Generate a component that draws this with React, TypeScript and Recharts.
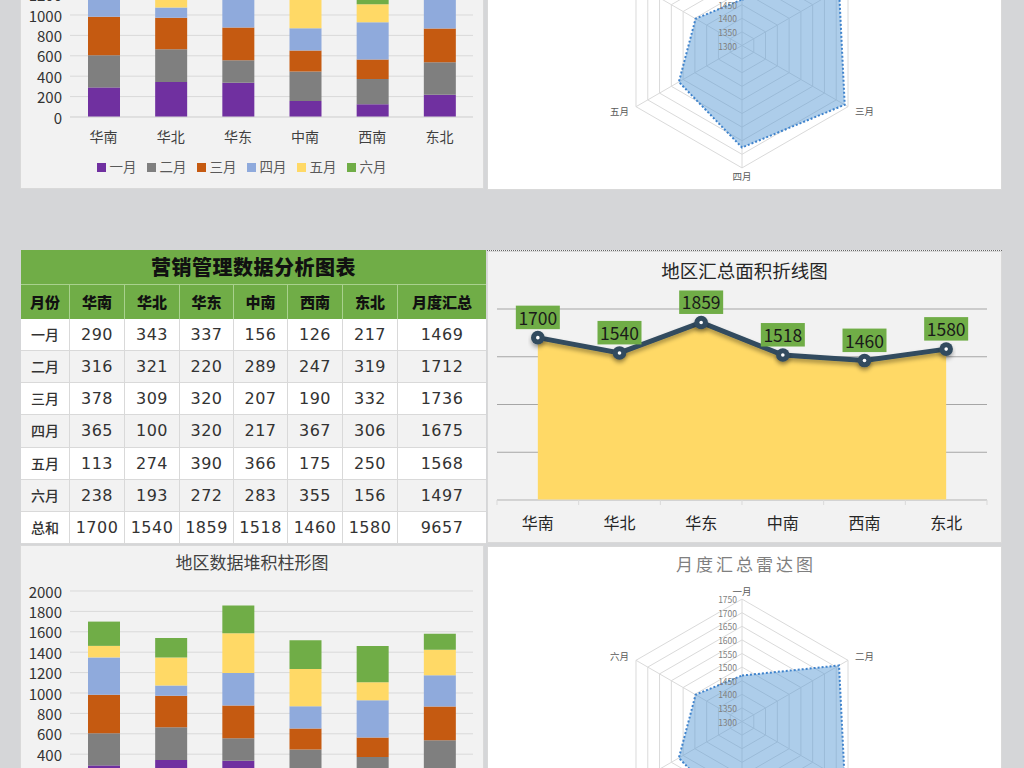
import React from 'react';
import {
  BarChart, Bar, XAxis, YAxis, CartesianGrid, Legend,
  ComposedChart, Area, Line, LabelList,
  RadarChart, Radar, PolarGrid, PolarAngleAxis, PolarRadiusAxis,
} from 'recharts';

// ---------- data ----------
const regions = ['华南', '华北', '华东', '中南', '西南', '东北'];
const months = ['一月', '二月', '三月', '四月', '五月', '六月'];
const jan = [290, 343, 337, 156, 126, 217];
const feb = [316, 321, 220, 289, 247, 319];
const mar = [378, 309, 320, 207, 190, 332];
const apr = [365, 100, 320, 217, 367, 306];
const may = [113, 274, 390, 366, 175, 250];
const jun = [238, 193, 272, 283, 355, 156];
const regionTotals = [1700, 1540, 1859, 1518, 1460, 1580];
const monthTotals = [1469, 1712, 1736, 1675, 1568, 1497];
const grandTotal = 9657;
const barTicks = [0, 200, 400, 600, 800, 1000, 1200, 1400, 1600, 1800, 2000];
const lineTicks = [0, 500, 1000, 1500, 2000];
const radarTicks = [1300, 1350, 1400, 1450, 1500, 1550, 1600, 1650, 1700, 1750];
const monthColors = ['#7030a0', '#7f7f7f', '#c55a11', '#8faadc', '#ffd966', '#70ad47'];
const tableTitle = '营销管理数据分析图表';
const firstHeader = '月份';
const totalHeader = '月度汇总';
const sumLabel = '总和';

const monthRows = [jan, feb, mar, apr, may, jun];
const seriesKeys = months.map((_, i) => 'm' + i);

const barData = regions.map((r, i) => {
  const row: any = { region: r };
  monthRows.forEach((arr, m) => { row[seriesKeys[m]] = arr[i]; });
  return row;
});
const lineData = regions.map((r, i) => ({ region: r, total: regionTotals[i] }));
const radarData = months.map((m, i) => ({ month: m, total: monthTotals[i] }));

const FONT = "'Noto Sans CJK SC', 'Noto Sans', sans-serif";
const PAGE_H = 768;

// hides labels of the repeated panels that would sit entirely outside the visible page
const offPage = (panelTop: number, y: number) => panelTop + y < -8 || panelTop + y > PAGE_H + 8;

// ---------- stacked bar panel ----------
function StackedPanel({ top }: { top: number }) {
  const xTick = (props: any) => offPage(top, props.y + 19) ? <g /> : (
    <text x={props.x} y={props.y + 19} textAnchor="middle" dominantBaseline="central"
      fontSize={14} fill="#404040" fontFamily={FONT}>{props.payload.value}</text>
  );
  const yTick = (props: any) => offPage(top, props.y) ? <g /> : (
    <text x={props.x} y={props.y} textAnchor="end" dominantBaseline="central"
      fontSize={15} fill="#333333" fontFamily={FONT}>{props.payload.value}</text>
  );
  const legendVisible = !offPage(top, 300);
  return (
    <div style={{
      position: 'absolute', left: 20, top, width: 464, height: 322,
      background: '#f2f2f2', boxShadow: 'inset 0 0 0 1px #d9d9d9',
    }}>
      <BarChart width={464} height={322} data={barData}
        margin={{ top: 46, right: 11, bottom: 6, left: 0 }}>
        <CartesianGrid vertical={false} stroke="#d9d9d9" />
        <XAxis dataKey="region" axisLine={{ stroke: '#d9d9d9' }} tickLine={false}
          tickSize={0} tickMargin={0} height={36} interval={0} tick={xTick} />
        <YAxis domain={[0, 2000]} ticks={barTicks} interval={0} axisLine={false}
          tickLine={false} width={50} tick={yTick} />
        {legendVisible ? (
          <Legend height={30} iconType="square" iconSize={9} itemSorter="dataKey"
            formatter={(v: any) => <span style={{ color: '#595959', fontSize: 13.5, fontFamily: FONT }}>{v}</span>} />
        ) : (
          <Legend height={30} content={() => null} />
        )}
        {seriesKeys.map((k, i) => (
          <Bar key={k} dataKey={k} name={months[i]} stackId="s" fill={monthColors[i]}
            barSize={32} isAnimationActive={false} />
        ))}
      </BarChart>
      {!offPage(top, 17) && (
        <div style={{
          position: 'absolute', left: 0, top: 5, width: 464, height: 24, lineHeight: '24px',
          textAlign: 'center', fontSize: 17, color: '#404040', fontFamily: FONT,
        }}>地区数据堆积柱形图</div>
      )}
    </div>
  );
}

// ---------- radar panel ----------
function RadarPanel({ top }: { top: number }) {
  const angleTick = (props: any) => offPage(top, props.y) ? <g /> : (
    <text x={props.x} y={props.y} textAnchor={props.textAnchor} dominantBaseline="central"
      fontSize={9.5} fill="#595959" fontFamily={FONT}>{props.payload.value}</text>
  );
  const radiusTick = (props: any) => offPage(top, props.y) ? <g /> : (
    <text x={props.x - 5} y={props.y} textAnchor="end" dominantBaseline="central"
      fontSize={8.5} fill="#7f7f7f" fontFamily={FONT}>{props.payload.value}</text>
  );
  return (
    <div style={{
      position: 'absolute', left: 487, top, width: 515, height: 320,
      background: '#ffffff', boxShadow: 'inset 0 0 0 1px #d9d9d9',
    }}>
      <RadarChart width={515} height={320} data={radarData} cx={255} cy={175.5}
        outerRadius={122.4} margin={{ top: 0, right: 0, bottom: 0, left: 0 }}>
        <PolarGrid gridType="polygon" stroke="#dadada" />
        <PolarAngleAxis dataKey="month" tickLine={false} axisLine={false} tick={angleTick} />
        <PolarRadiusAxis angle={90} type="number" domain={[1300, 1750]} ticks={radarTicks}
          tickCount={10} axisLine={false} tickLine={false} tick={radiusTick} />
        <Radar dataKey="total" stroke="#3f83cc" strokeWidth={2} strokeDasharray="2 2"
          fill="#5b9bd5" fillOpacity={0.5} isAnimationActive={false} />
      </RadarChart>
      {!offPage(top, 18) && (
        <div style={{
          position: 'absolute', left: 1.5, top: 6, width: 515, height: 24, lineHeight: '24px',
          textAlign: 'center', fontSize: 17, letterSpacing: 3, color: '#7f7f7f', fontFamily: FONT,
        }}>月度汇总雷达图</div>
      )}
    </div>
  );
}

// ---------- area / line panel ----------
const LINE_PLOT_W = 490;
const HALF = LINE_PLOT_W / regions.length / 2;
const LINE_COLOR = '#324b5f';

const LineTick = (props: any) => {
  const { x, y, payload, index } = props;
  return (
    <g>
      <line x1={x - HALF} x2={x - HALF} y1={y} y2={y + 5} stroke="#d9d9d9" />
      {index === regions.length - 1 && (
        <line x1={x + HALF} x2={x + HALF} y1={y} y2={y + 5} stroke="#d9d9d9" />
      )}
      <text x={x} y={y + 21.5} textAnchor="middle" dominantBaseline="central"
        fontSize={16} fill="#262626" fontFamily={FONT}>{payload.value}</text>
    </g>
  );
};

const LineDot = (props: any) => {
  const { cx, cy, index } = props;
  return (
    <g key={'d' + index}>
      <circle cx={cx} cy={cy} r={6.8} fill={LINE_COLOR} filter="url(#lineShadow)" />
      <circle cx={cx} cy={cy} r={1.8} fill="#ffffff" />
    </g>
  );
};

const BoxLabel = (props: any) => {
  const { x, y, value } = props;
  return (
    <g>
      <rect x={x - 22} y={y - 32} width={44} height={23.5} fill="#70ad47" />
      <text x={x} y={y - 20.5} textAnchor="middle" dominantBaseline="central"
        fontSize={17.5} fill="#1a1a1a" fontFamily={FONT}>{value}</text>
    </g>
  );
};

function LinePanel({ top }: { top: number }) {
  return (
    <div style={{
      position: 'absolute', left: 487, top, width: 515, height: 292,
      background: '#f2f2f2', boxShadow: 'inset 0 0 0 1px #d9d9d9',
      borderTop: '1px dotted #666',
    }}>
      <ComposedChart width={515} height={291} data={lineData}
        margin={{ top: 58, right: 15, left: 10, bottom: 0 }}>
        <defs>
          <filter id="lineShadow" x="-20%" y="-50%" width="140%" height="200%">
            <feDropShadow dx="0" dy="3" stdDeviation="2.2" floodColor="#000" floodOpacity="0.35" />
          </filter>
        </defs>
        <CartesianGrid vertical={false} stroke="#a6a6a6" />
        <XAxis dataKey="region" scale="point" padding={{ left: HALF, right: HALF }}
          axisLine={{ stroke: '#d9d9d9' }} tickLine={false} tickSize={0} tickMargin={0}
          height={42} interval={0} tick={LineTick} />
        <YAxis hide domain={[0, 2000]} ticks={lineTicks} />
        <Area dataKey="total" type="linear" fill="#ffd966" fillOpacity={1} stroke="none"
          isAnimationActive={false} />
        <Line dataKey="total" type="linear" stroke={LINE_COLOR} strokeWidth={5}
          filter="url(#lineShadow)" dot={LineDot} activeDot={false} isAnimationActive={false}>
          <LabelList dataKey="total" content={BoxLabel} />
        </Line>
      </ComposedChart>
      <div style={{
        position: 'absolute', left: 0, top: 6, width: 515, height: 26, lineHeight: '26px',
        textAlign: 'center', fontSize: 18.5, color: '#262626', fontFamily: FONT,
      }}>地区汇总面积折线图</div>
    </div>
  );
}

// ---------- table ----------
const colWidths = [49, 55, 55, 54, 54, 55, 55, 88];
const ROW_H = 32.15;

function DataTable({ top }: { top: number }) {
  const header = [firstHeader, ...regions, totalHeader];
  const bodyRows = [
    ...months.map((m, i) => [m, ...monthRows[i].map(String), String(monthTotals[i])]),
    [sumLabel, ...regionTotals.map(String), String(grandTotal)],
  ];
  return (
    <div style={{ position: 'absolute', left: 21, top, width: 465 }}>
      <div style={{
        height: 35, background: '#70ad47', borderBottom: '1px solid #a9d18e', boxSizing: 'border-box',
        textAlign: 'center', lineHeight: '34px', fontSize: 20, fontWeight: 900,
        color: '#111', fontFamily: FONT, letterSpacing: 0.5,
      }}>{tableTitle}</div>
      <div style={{ display: 'flex', height: 34, background: '#70ad47' }}>
        {header.map((h, c) => (
          <div key={c} style={{
            width: colWidths[c], boxSizing: 'border-box',
            borderRight: c < header.length - 1 ? '1px solid #a9d18e' : 'none',
            textAlign: 'center', lineHeight: '34px', fontSize: 15, fontWeight: 900,
            color: '#111', fontFamily: FONT,
          }}>{h}</div>
        ))}
      </div>
      {bodyRows.map((row, r) => (
        <div key={r} style={{
          display: 'flex', height: ROW_H, background: r % 2 === 1 ? '#f2f2f2' : '#ffffff',
          borderBottom: '1px solid #d9d9d9', boxSizing: 'border-box',
        }}>
          {row.map((v, c) => (
            <div key={c} style={{
              width: colWidths[c], boxSizing: 'border-box',
              borderRight: c < row.length - 1 ? '1px solid #d9d9d9' : 'none',
              textAlign: 'center', lineHeight: ROW_H - 1 + 'px',
              fontSize: c === 0 ? 14 : 16, fontWeight: c === 0 ? 500 : 400,
              color: '#333', fontFamily: c === 0 ? FONT : "'DejaVu Sans', sans-serif",
              letterSpacing: c === 0 ? 0 : 0.5,
            }}>{v}</div>
          ))}
        </div>
      ))}
    </div>
  );
}

export default function App() {
  return (
    <div style={{
      position: 'absolute', left: 0, top: 0, width: 1024, height: PAGE_H, overflow: 'hidden',
      background: '#d5d6d8', fontFamily: FONT,
    }}>
      <StackedPanel top={-133} />
      <RadarPanel top={-130} />
      <DataTable top={250} />
      <LinePanel top={250} />
      <StackedPanel top={545} />
      <RadarPanel top={546} />
    </div>
  );
}
